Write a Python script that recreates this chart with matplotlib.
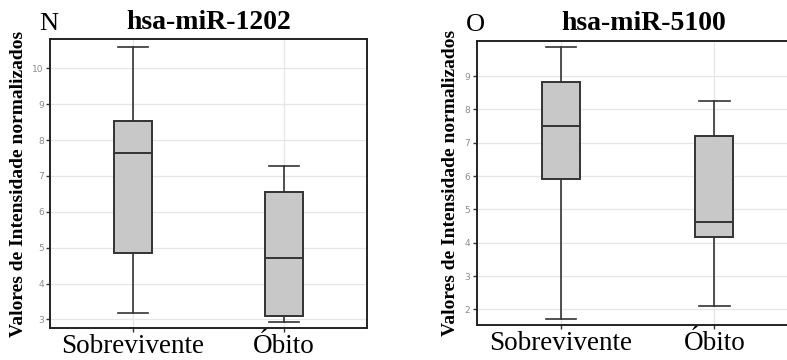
import matplotlib
matplotlib.use("Agg")
import matplotlib.pyplot as plt

grupos = ["Sobrevivente", "Óbito"]

# hsa-miR-1202: resumo dos boxplots (mínimo, Q1, mediana, Q3, máximo)
mir1202_min = [3.17, 2.93]
mir1202_q1 = [4.84, 3.09]
mir1202_med = [7.65, 4.72]
mir1202_q3 = [8.54, 6.54]
mir1202_max = [10.60, 7.27]

# hsa-miR-5100
mir5100_min = [1.71, 2.10]
mir5100_q1 = [5.91, 4.18]
mir5100_med = [7.50, 4.63]
mir5100_q3 = [8.81, 7.20]
mir5100_max = [9.86, 8.24]

serif = "Liberation Serif"
cor_borda = "#333333"


def painel(ax, letra, titulo, vmin, q1, med, q3, vmax, ylim, yticks, xtit):
    stats = []
    for i, g in enumerate(grupos):
        stats.append(dict(label=g, whislo=vmin[i], q1=q1[i], med=med[i],
                          q3=q3[i], whishi=vmax[i], fliers=[]))
    ax.bxp(stats, positions=[1, 2], widths=0.25, capwidths=0.2,
           patch_artist=True, showfliers=False,
           boxprops=dict(facecolor="#c8c8c8", edgecolor=cor_borda, linewidth=1.4),
           medianprops=dict(color=cor_borda, linewidth=1.4),
           whiskerprops=dict(color=cor_borda, linewidth=1.2),
           capprops=dict(color=cor_borda, linewidth=1.2))
    ax.set_xlim(0.45, 2.55)
    ax.set_ylim(*ylim)
    ax.set_yticks(yticks)
    ax.set_yticklabels([str(t) for t in yticks])
    ax.grid(True, color="#e6e6e6", linewidth=0.9)
    ax.set_axisbelow(True)
    for s in ax.spines.values():
        s.set_color("#222222")
        s.set_linewidth(1.4)
    ax.tick_params(axis="y", labelsize=6.5, labelcolor="#8c8c8c", length=3,
                   width=1, color="#333333", pad=1.5)
    ax.tick_params(axis="x", length=3, width=1, color="#333333", pad=1)
    ax.set_xticks([1, 2])
    ax.set_xticklabels(grupos, fontfamily=serif, fontsize=19.5)
    ax.set_ylabel("Valores de Intensidade normalizados", fontfamily=serif,
                  fontweight="bold", fontsize=14, labelpad=4)
    ax.text(xtit, 1.015, titulo, transform=ax.transAxes, ha="center",
            va="bottom", fontfamily=serif, fontweight="bold", fontsize=20)
    ax.text(-0.035, 1.015, letra, transform=ax.transAxes, ha="left",
            va="bottom", fontfamily=serif, fontsize=19)


fig = plt.figure(figsize=(7.87, 3.6), dpi=100)
ax1 = fig.add_axes([0.0635, 0.0889, 0.4028, 0.8028])
ax2 = fig.add_axes([0.6057, 0.0972, 0.4091, 0.7898])

painel(ax1, "N", "hsa-miR-1202", mir1202_min, mir1202_q1, mir1202_med,
       mir1202_q3, mir1202_max, (2.76, 10.82), list(range(3, 11)), 0.5)
painel(ax2, "O", "hsa-miR-5100", mir5100_min, mir5100_q1, mir5100_med,
       mir5100_q3, mir5100_max, (1.53, 10.06), list(range(2, 10)), 0.52)

fig.savefig("out.png", dpi=100)
